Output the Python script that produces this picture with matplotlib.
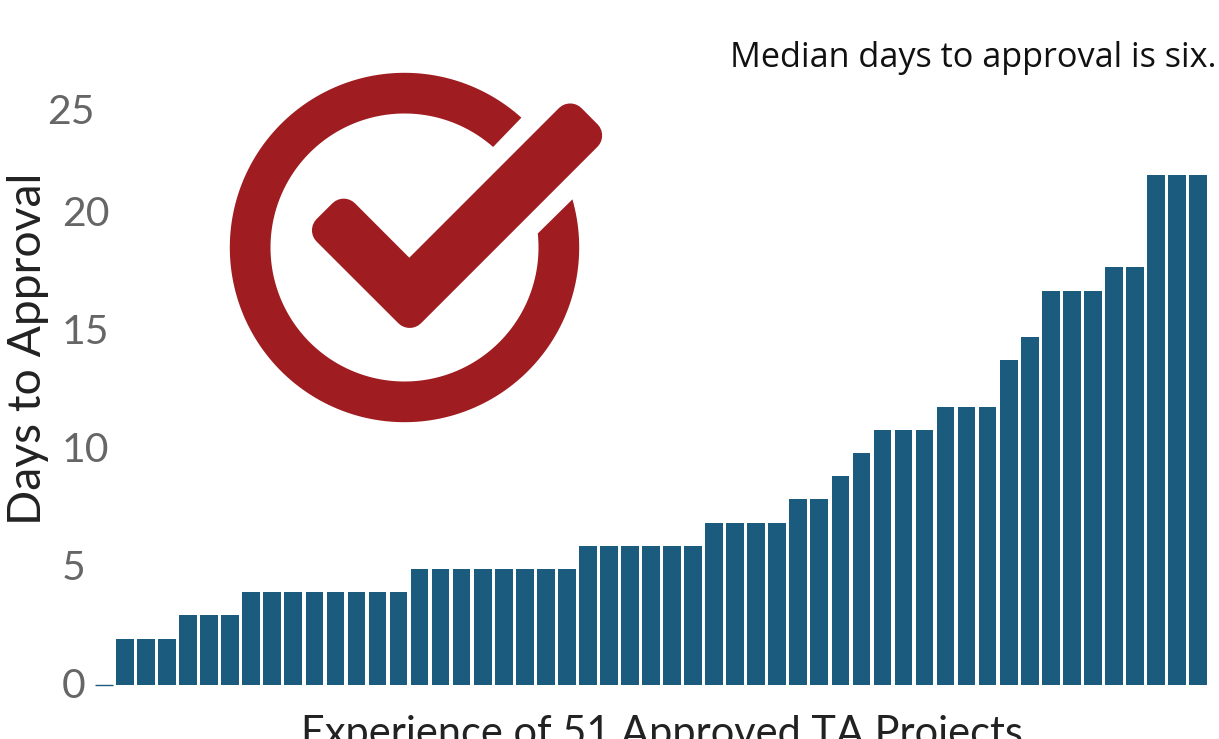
import numpy as np
import matplotlib
matplotlib.use('Agg')
import matplotlib.pyplot as plt
from matplotlib.path import Path
from matplotlib.patches import PathPatch, Polygon
from matplotlib.transforms import Affine2D

# Data
days = [0, 2, 2, 2, 3, 3, 3, 4, 4, 4, 4, 4, 4, 4, 4, 5, 5, 5, 5, 5, 5, 5, 5,
        6, 6, 6, 6, 6, 6, 7, 7, 7, 7, 8, 8, 9, 10, 11, 11, 11, 12, 12, 12,
        14, 15, 17, 17, 17, 18, 18, 22, 22, 22]
y_ticks = [0, 5, 10, 15, 20, 25]
y_labels = ['0', '5', '10', '15', '20', '25']
# the reference labels sit a little off the bar scale (pixels)
label_nudge = [(0, 2), (0, 4), (0, 6), (0, 8), (0, 10), (-15, -4)]

BAR_COLOR = '#1a5b7e'
ICON_COLOR = '#9f1c20'
W, H = 1219, 739

fig = plt.figure(figsize=(W / 100, H / 100), dpi=100)
ax = fig.add_axes([95 / W, (H - 685) / H, 1112 / W, 580 / H])

x = np.arange(len(days))
ax.bar(x, days, width=0.84, color=BAR_COLOR, linewidth=0, clip_on=False)
ax.hlines(0, x[0] - 0.42, x[0] + 0.42, color=BAR_COLOR, linewidth=1, clip_on=False)
ax.set_xlim(-0.425, len(days) - 1 + 0.425)
ax.set_ylim(0, 25)
ax.set_xticks([])
ax.set_yticks(y_ticks)
ax.set_yticklabels(y_labels, fontname='Lato', fontsize=29.5, color='#666666', ha='left')
ax.tick_params(axis='y', length=0, pad=24)
for lab, (dx, dy) in zip(ax.get_yticklabels(), label_nudge):
    lab.set_transform(lab.get_transform() + Affine2D().translate(dx, dy))
for s in ax.spines.values():
    s.set_visible(False)

# Text, placed in pixels
overlay = fig.add_axes([0, 0, 1, 1], zorder=5)
overlay.set_xlim(0, W)
overlay.set_ylim(H, 0)
overlay.axis('off')
overlay.patch.set_alpha(0)

overlay.text(28, 349, 'Days to Approval', rotation=90, fontname='Lato',
             fontsize=33.3, color='#222222', ha='center', va='center')
overlay.text(662, 746, 'Experience of 51 Approved TA Projects', fontname='Lato',
             fontsize=29.9, color='#222222', ha='center', va='baseline', clip_on=False)
overlay.text(1216, 67, 'Median days to approval is six.', fontname='Open Sans',
             fontsize=24.7, color='#111111', ha='right', va='baseline')

# Check icon: ring with a diagonal gap
cx, cy = 404.5, 247.5
R, r = 174.7, 134.0
outer = np.radians(np.linspace(48, 360 + 16, 200))
inner = np.radians(np.linspace(360 + 6, 48.6, 200))
ring_x = np.concatenate([cx + R * np.cos(outer), cx + r * np.cos(inner)])
ring_y = np.concatenate([cy - R * np.sin(outer), cy - r * np.sin(inner)])
overlay.add_patch(Polygon(np.column_stack([ring_x, ring_y]), closed=True, facecolor=ICON_COLOR, edgecolor='none'))

# Tick mark: inset outline stroked with round joins
tick_pts = [(409.3, 280.3), (570.2, 119.4), (586.2, 135.5), (409.7, 312.0), (327.9, 230.3), (343.7, 214.6), (409.3, 280.3)]
codes = [Path.MOVETO] + [Path.LINETO] * 5 + [Path.CLOSEPOLY]
overlay.add_patch(PathPatch(Path(tick_pts, codes), facecolor=ICON_COLOR, edgecolor=ICON_COLOR,
                            linewidth=23, joinstyle='round'))

fig.savefig('out.png', dpi=100)
